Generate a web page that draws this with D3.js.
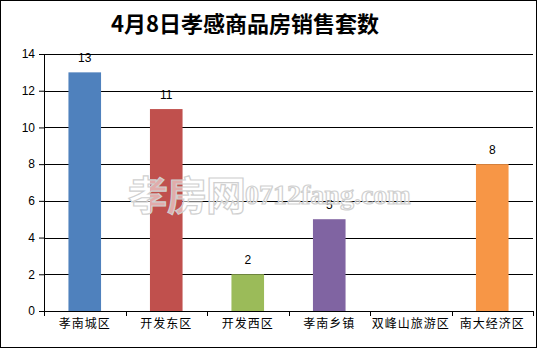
<!DOCTYPE html>
<html>
<head>
<meta charset="utf-8">
<script src="https://cdn.jsdelivr.net/npm/d3@7"></script>
<style>
  body { margin: 0; background: #fff; }
  svg { display: block; }
</style>
</head>
<body>
<div id="chart"></div>
<script>
const chartTitle = "4月8日孝感商品房销售套数";
const districts = ["孝南城区", "开发东区", "开发西区", "孝南乡镇", "双峰山旅游区", "南大经济区"];
const sales = [13, 11, 2, 5, null, 8];
const barColors = ["#4f81bd", "#c0504d", "#9bbb59", "#8064a2", "#4bacc6", "#f79646"];
const yTicks = [0, 2, 4, 6, 8, 10, 12, 14];

const width = 538, height = 349;
const margin = { top: 54, right: 5, bottom: 38, left: 44 };
const innerWidth = width - margin.left - margin.right;
const innerHeight = height - margin.top - margin.bottom;

const svg = d3.select("#chart")
  .append("svg")
    .attr("width", width)
    .attr("height", height);

// outer frame
svg.append("rect")
  .attr("x", 0.5).attr("y", 0.5)
  .attr("width", width - 2).attr("height", height - 2)
  .attr("fill", "#fff")
  .attr("stroke", "#000");

svg.append("text")
  .attr("x", 245)
  .attr("y", 32)
  .attr("text-anchor", "middle")
  .attr("font-family", "'Noto Sans CJK SC'")
  .attr("font-weight", "bold")
  .attr("font-size", 22)
  .text(chartTitle);

const innerChart = svg.append("g")
  .attr("transform", `translate(${margin.left}, ${margin.top})`);

const xScale = d3.scaleBand()
  .domain(districts)
  .range([0, innerWidth])
  .paddingInner(0.6)
  .paddingOuter(0.3);

const yScale = d3.scaleLinear()
  .domain([0, 14])
  .range([innerHeight, 0]);

// gridlines
innerChart.selectAll(".grid")
  .data(yTicks.slice(1))
  .join("line")
    .attr("x1", 0)
    .attr("x2", innerWidth)
    .attr("y1", d => Math.round(yScale(d)) + 0.5)
    .attr("y2", d => Math.round(yScale(d)) + 0.5)
    .attr("stroke", "#000");

const data = districts.map((d, i) => ({ name: d, value: sales[i], color: barColors[i] }));
const shown = data.filter(d => d.value != null);

innerChart.selectAll(".bar")
  .data(shown)
  .join("rect")
    .attr("x", d => xScale(d.name))
    .attr("y", d => yScale(d.value))
    .attr("width", xScale.bandwidth())
    .attr("height", d => innerHeight - yScale(d.value))
    .attr("fill", d => d.color);

innerChart.selectAll(".val")
  .data(shown)
  .join("text")
    .attr("x", d => xScale(d.name) + xScale.bandwidth() / 2)
    .attr("y", d => yScale(d.value) - 10)
    .attr("text-anchor", "middle")
    .attr("font-family", "'Liberation Sans', sans-serif")
    .attr("font-size", 12)
    .text(d => d.value);

// watermark
const wm = svg.append("text")
  .attr("x", 128)
  .attr("y", 210)
  .attr("fill", "rgba(255,255,255,0.55)")
  .attr("stroke", "#d0d0d0")
  .attr("stroke-width", 1.2)
  .attr("font-weight", "bold");
wm.append("tspan")
  .attr("font-family", "'Noto Sans CJK SC'")
  .attr("font-size", 40)
  .attr("letter-spacing", -1)
  .text("孝房网");
wm.append("tspan")
  .attr("font-family", "'Liberation Serif', serif")
  .attr("font-size", 28)
  .attr("dy", -6)
  .text("0712fang.com");

// axes
const leftAxis = d3.axisLeft(yScale)
  .tickValues(yTicks)
  .tickSize(5)
  .tickSizeOuter(0);

innerChart.append("g")
  .call(leftAxis)
  .call(g => g.selectAll("path, line").attr("stroke", "#000"))
  .call(g => g.selectAll("text")
    .attr("font-family", "'Liberation Sans', sans-serif")
    .attr("font-size", 12)
    .attr("fill", "#000")
    .attr("x", -9));

const bottomAxis = d3.axisBottom(xScale)
  .tickSize(0)
  .tickSizeOuter(0);

const xg = innerChart.append("g")
  .attr("transform", `translate(0, ${innerHeight})`)
  .call(bottomAxis);
xg.select(".domain").attr("stroke", "#000");
xg.selectAll("text")
  .attr("font-family", "'Noto Sans CJK SC'")
  .attr("font-size", 12)
  .attr("letter-spacing", 1)
  .attr("fill", "#000")
  .attr("dy", "1.2em");

// category boundary ticks
const step = xScale.step();
xg.selectAll(".sep")
  .data(d3.range(districts.length + 1))
  .join("line")
    .attr("x1", i => Math.round(i * (innerWidth / districts.length)) + 0.5)
    .attr("x2", i => Math.round(i * (innerWidth / districts.length)) + 0.5)
    .attr("y1", 0)
    .attr("y2", 5)
    .attr("stroke", "#000");
</script>
</body>
</html>
